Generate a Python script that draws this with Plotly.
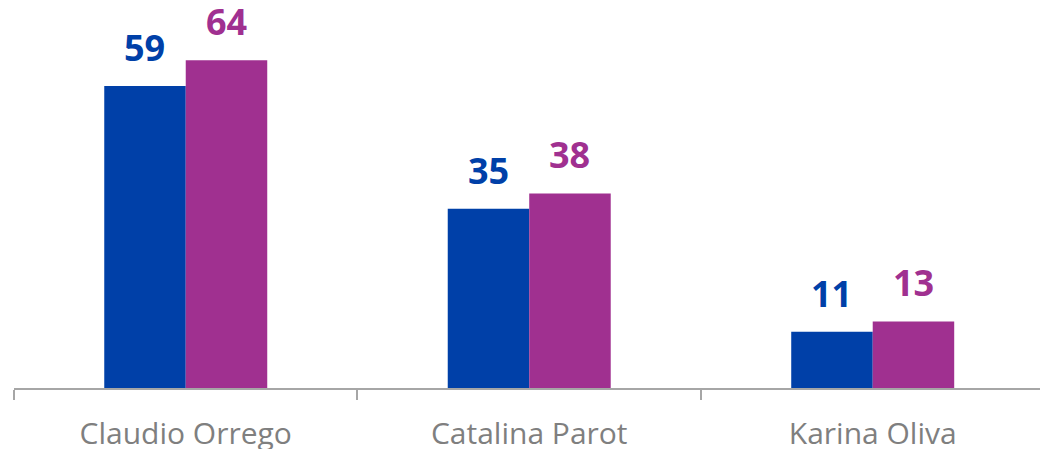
import plotly.graph_objects as go

categories = ["Claudio Orrego", "Catalina Parot", "Karina Oliva"]
series_a = [59, 35, 11]
series_b = [64, 38, 13]
colors = ["#0040A8", "#A03090"]

fig = go.Figure()
for vals, col in zip([series_a, series_b], colors):
    fig.add_trace(go.Bar(x=categories, y=vals, marker=dict(color=col, line=dict(width=0)),
                         showlegend=False, hoverinfo="skip"))

bar_px = 81.5
for vals, col, sh in zip([series_a, series_b], colors, [-bar_px / 2, bar_px / 2]):
    for c, v in zip(categories, vals):
        fig.add_annotation(x=c, y=v, text=str(v), showarrow=False, xref="x", yref="y",
                           xshift=sh, yshift=12, yanchor="bottom",
                           font=dict(family="Open Sans", size=36, color=col, weight="bold"))

fig.update_layout(
    width=1040, height=449,
    margin=dict(l=14, r=0, t=5, b=61, autoexpand=False),
    paper_bgcolor="white", plot_bgcolor="white",
    barmode="group", bargap=0.5255, bargroupgap=0,
    xaxis=dict(type="category", range=[-0.5, 2.487], showline=True, linecolor="#A6A6A6",
               linewidth=1.5, ticks="outside", tickson="boundaries", ticklen=10,
               tickcolor="#A6A6A6", tickwidth=1.5, showgrid=False, ticklabelstandoff=18,
               automargin=False,
               tickfont=dict(family="Open Sans", size=30, color="#7F7F7F")),
    yaxis=dict(range=[0, 74.8], visible=False, showgrid=False, zeroline=False),
)
fig.write_html("out.html", config={"displayModeBar": False},
               post_script="document.body.style.margin='0';")
